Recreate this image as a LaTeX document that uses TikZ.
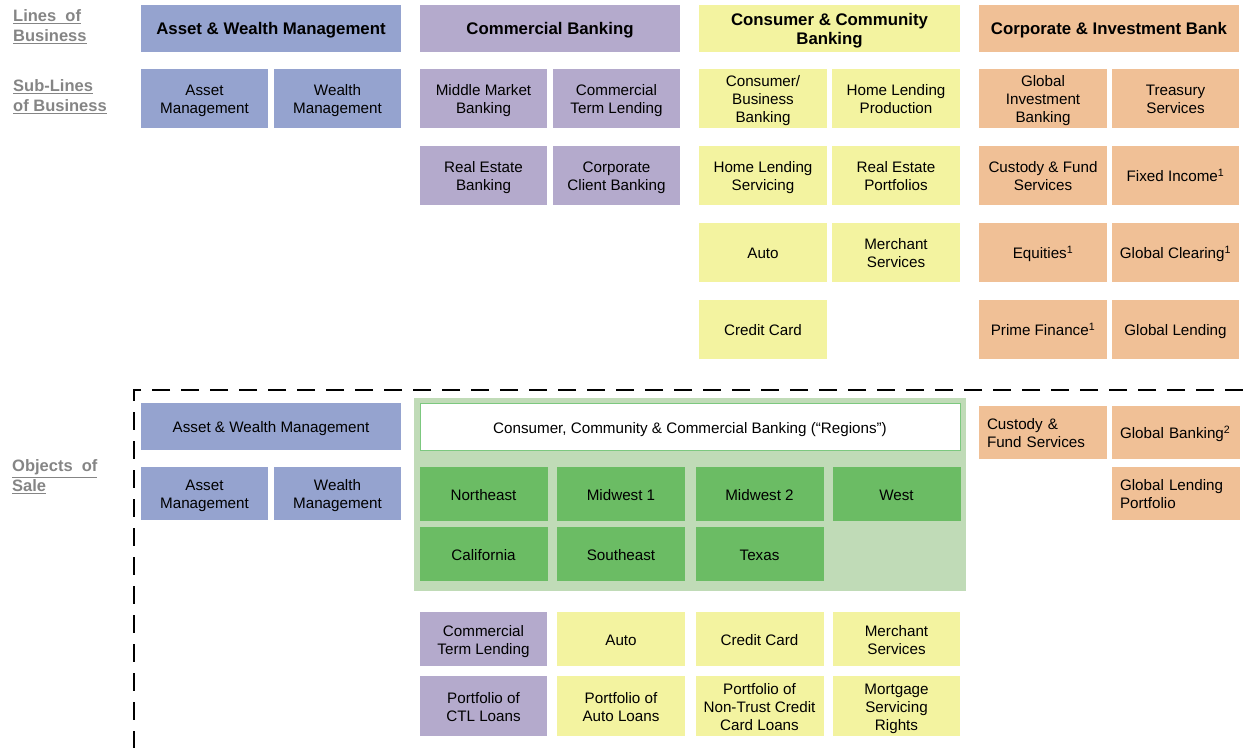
\documentclass[tikz,border=0pt]{standalone}
\usepackage{fontspec}
\setmainfont{Liberation Sans}
\definecolor{cblue}{HTML}{95A3CF}
\definecolor{cpurp}{HTML}{B4AACC}
\definecolor{cyell}{HTML}{F3F3A0}
\definecolor{corng}{HTML}{F0C096}
\definecolor{cgbg}{HTML}{C0DBB7}
\definecolor{cgrn}{HTML}{6BBC64}
\definecolor{cgedge}{HTML}{7CC87F}
\definecolor{clab}{HTML}{858585}
\newcommand\tp{\rule{0pt}{16pt}}
\newcommand\bt{\rule[-3.2pt]{0pt}{3.2pt}}
\begin{document}
\begin{tikzpicture}[x=1pt,y=-1pt,
  bx/.style={inner sep=0pt, align=center, font=\fontsize{15.2}{18}\selectfont, text=black},
  hd/.style={bx, minimum width=260pt, minimum height=47pt, font=\fontsize{16.8}{19}\selectfont\bfseries},
  sb/.style={bx, minimum width=127pt, minimum height=59pt},
  ob/.style={bx, minimum width=128pt, minimum height=54pt},
  obt/.style={bx, minimum width=128pt, minimum height=60pt},
  lb/.style={anchor=west, align=left, inner sep=0pt, text=clab, font=\fontsize{16.5}{20}\selectfont\bfseries},
  dsh/.style={line width=2.6pt, dash pattern=on 18pt off 11pt}
]
\useasboundingbox (0,0) rectangle (1243,748);

% left labels
\node[lb] (l1) at (13,27) {\underline{Lines\ \ of}\\\underline{Business}};
\node[lb] (l2) at (13,96.5) {\underline{Sub-Lines}\\\underline{of Business}};
\node[lb] (l3) at (12,477) {\underline{Objects\ \ of}\\\underline{Sale}};

% headers
\node[hd, fill=cblue] (hawm) at (271,28.5) {\tp Asset \& Wealth Management\bt};
\node[hd, fill=cpurp] (hcb) at (550,28.5) {\tp Commercial Banking\bt};
\node[hd, fill=cyell, minimum width=261pt] (hccb) at (829.5,28.5) {\tp Consumer \& Community\\Banking\bt};
\node[hd, fill=corng] (hcib) at (1109,28.5) {\tp Corporate \& Investment Bank\bt};

% sub-lines AWM
\node[sb, fill=cblue] (am) at (204.5,98.5) {\tp Asset\\Management\bt};
\node[sb, fill=cblue] (wm) at (337.5,98.5) {\tp Wealth\\Management\bt};
% CB
\node[sb, fill=cpurp] (mmb) at (483.5,98.5) {\tp Middle Market\\Banking\bt};
\node[sb, fill=cpurp] (ctl) at (616.5,98.5) {\tp Commercial\\Term Lending\bt};
\node[sb, fill=cpurp] (reb) at (483.5,175.5) {\tp Real Estate\\Banking\bt};
\node[sb, fill=cpurp] (ccbk) at (616.5,175.5) {\tp Corporate\\Client Banking\bt};
% CCB
\node[sb, fill=cyell, minimum width=128pt] (cbb) at (763,98.5) {\tp Consumer/\\Business\\Banking\bt};
\node[sb, fill=cyell, minimum width=128pt] (hlp) at (896,98.5) {\tp Home Lending\\Production\bt};
\node[sb, fill=cyell, minimum width=128pt] (hls) at (763,175.5) {\tp Home Lending\\Servicing\bt};
\node[sb, fill=cyell, minimum width=128pt] (rep) at (896,175.5) {\tp Real Estate\\Portfolios\bt};
\node[sb, fill=cyell, minimum width=128pt] (auto) at (763,252.5) {\tp Auto\bt};
\node[sb, fill=cyell, minimum width=128pt] (ms) at (896,252.5) {\tp Merchant\\Services\bt};
\node[sb, fill=cyell, minimum width=128pt] (cc) at (763,329.5) {\tp Credit Card\bt};
% CIB
\node[sb, fill=corng, minimum width=128pt] (gib) at (1043,98.5) {\tp Global\\Investment\\Banking\bt};
\node[sb, fill=corng] (ts) at (1175.5,98.5) {\tp Treasury\\Services\bt};
\node[sb, fill=corng, minimum width=128pt] (cfs) at (1043,175.5) {\tp Custody \& Fund\\Services\bt};
\node[sb, fill=corng] (fi) at (1175.5,175.5) {\tp Fixed Income\textsuperscript{1}\bt};
\node[sb, fill=corng, minimum width=128pt] (eq) at (1043,252.5) {\tp Equities\textsuperscript{1}\bt};
\node[sb, fill=corng] (gc) at (1175.5,252.5) {\tp Global Clearing\textsuperscript{1}\bt};
\node[sb, fill=corng, minimum width=128pt] (pf) at (1043,329.5) {\tp Prime Finance\textsuperscript{1}\bt};
\node[sb, fill=corng] (gl) at (1175.5,329.5) {\tp Global Lending\bt};

% dashed boundary
\coordinate (dR) at (1243,390);
\coordinate (dC) at (134,390);
\coordinate (dB) at (134,748);
\draw[dsh] (dR) -- (dC) -- (dB);

% objects of sale: AWM
\node[bx, fill=cblue, minimum width=260pt, minimum height=47pt] (oawm) at (271,426.5) {\tp Asset \& Wealth Management\bt};
\node[ob, fill=cblue, minimum width=127pt, minimum height=53pt] (oam) at (204.5,493.5) {\tp Asset\\Management\bt};
\node[ob, fill=cblue, minimum width=127pt, minimum height=53pt] (owm) at (337.5,493.5) {\tp Wealth\\Management\bt};

% regions
\node[fill=cgbg, minimum width=552pt, minimum height=193pt, inner sep=0pt] (gbg) at (690,494.5) {};
\node[bx, fill=white, draw=cgedge, line width=1pt, minimum width=540pt, minimum height=47pt] (reg) at (690,427) {\tp Consumer, Community \& Commercial Banking (“Regions”)\bt};
\node[ob, fill=cgrn] (ne) at (483.5,494) {\tp Northeast\bt};
\node[ob, fill=cgrn] (mw1) at (621,494) {\tp Midwest 1\bt};
\node[ob, fill=cgrn] (mw2) at (759.5,494) {\tp Midwest 2\bt};
\node[ob, fill=cgrn] (we) at (896.5,494) {\tp West\bt};
\node[ob, fill=cgrn] (ca) at (483.5,554) {\tp California\bt};
\node[ob, fill=cgrn] (se) at (621,554) {\tp Southeast\bt};
\node[ob, fill=cgrn] (tx) at (759.5,554) {\tp Texas\bt};

% bottom rows
\node[ob, fill=cpurp, minimum width=127pt] (octl) at (483.5,639) {\tp Commercial\\Term Lending\bt};
\node[ob, fill=cyell] (oauto) at (621,639) {\tp Auto\bt};
\node[ob, fill=cyell] (occ) at (759.5,639) {\tp Credit Card\bt};
\node[ob, fill=cyell, minimum width=127pt] (oms) at (896.5,639) {\tp Merchant\\Services\bt};
\node[obt, fill=cpurp, minimum width=127pt] (pctl) at (483.5,706) {\tp Portfolio of\\CTL Loans\bt};
\node[obt, fill=cyell] (pal) at (621,706) {\tp Portfolio of\\Auto Loans\bt};
\node[obt, fill=cyell] (pcc) at (759.5,706) {\tp Portfolio of\\Non-Trust Credit\\Card Loans\bt};
\node[obt, fill=cyell, minimum width=127pt] (msr) at (896.5,706) {\tp Mortgage\\Servicing\\Rights\bt};

% CIB objects
\node[ob, fill=corng, align=left, text width=112pt, inner xsep=8pt, minimum height=53pt] (ocfs) at (1043,432.5) {\tp Custody \&\\Fund Services\bt};
\node[ob, fill=corng, align=left, text width=111pt, inner xsep=8pt, minimum height=53pt] (ogb) at (1175.5,432.5) {\tp Global Banking\textsuperscript{2}\bt};
\node[ob, fill=corng, align=left, text width=111pt, inner xsep=8pt, minimum height=53pt] (oglp) at (1175.5,493.5) {\tp Global Lending\\Portfolio\bt};
\end{tikzpicture}
\end{document}
